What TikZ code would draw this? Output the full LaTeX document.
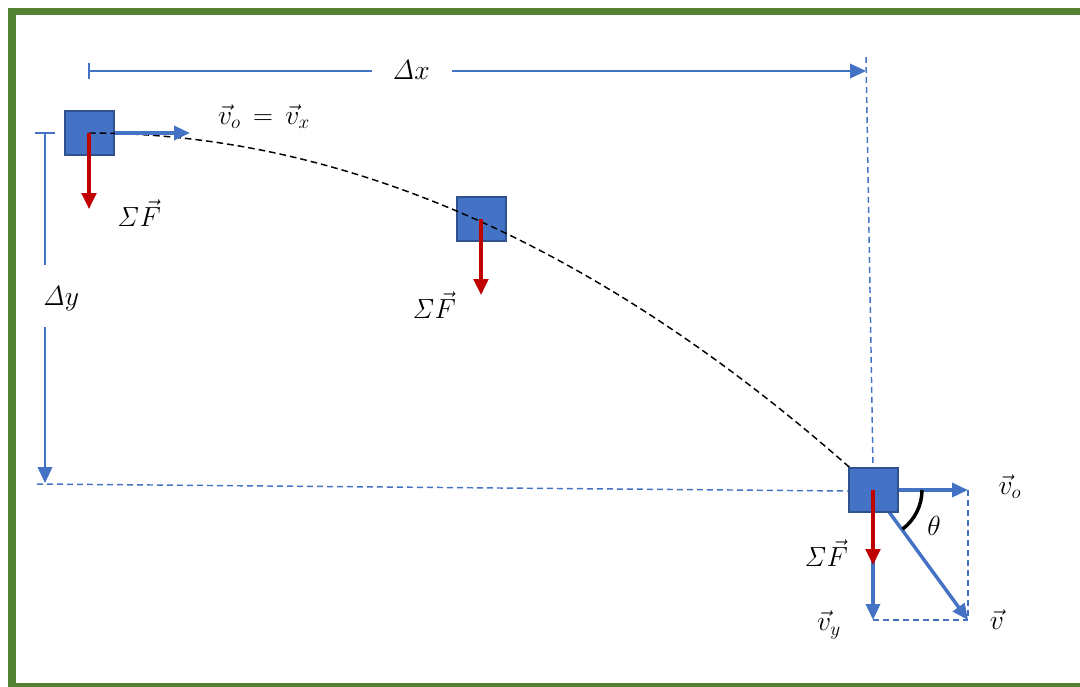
\documentclass[tikz,border=0pt]{standalone}
\usepackage{amsmath,amssymb}
\usepackage{xcolor}
\usepackage{tikz}
\usetikzlibrary{positioning, shapes, arrows.meta}
\definecolor{blockblue}{HTML}{4472C4}
\definecolor{blockedge}{HTML}{2F528F}
\definecolor{forcered}{HTML}{C00000}
\definecolor{framegreen}{HTML}{548235}

\begin{document}
\begin{tikzpicture}[x=0.75pt, y=-0.75pt, font=\huge,
  block/.style={draw=blockedge, line width=1.5pt, fill=blockblue, minimum width=36.75pt, minimum height=33pt, inner sep=0pt},
  vel/.style={draw=blockblue, line width=2.6pt, -{Triangle[length=12pt, width=10.5pt]}},
  force/.style={draw=forcered, line width=2.4pt, -{Triangle[length=12pt, width=11pt]}},
  dim/.style={draw=blockblue, line width=1.1pt},
  guide/.style={draw=blockblue, line width=1.1pt, dash pattern=on 4.5pt off 3pt},
  path/.style={draw=black, line width=1.1pt, dash pattern=on 5pt off 3pt},
  label/.style={inner sep=1pt}]
  \useasboundingbox (0,0) rectangle (1080,686);
  \draw [framegreen, line width=5.5pt] (12,11.5) rectangle (1095,687);

  \coordinate (c1) at (89,133);
  \coordinate (c2) at (481,219);
  \coordinate (c3) at (873,490);

  \node (b1) [block] at (c1) {};
  \node (b2) [block] at (c2) {};

  \draw [path] (c1) .. controls (348,133) and (607,249) .. (866,482);

  \coordinate (f1tip) at (89,209);
  \coordinate (f2tip) at (481,295);
  \coordinate (votip1) at (190,133);
  \draw [vel] (b1.east) -- (votip1);
  \draw [force] (c1) -- (f1tip);
  \draw [force] (c2) -- (f2tip);

  \node (vx) [label] at (264,117) {$\vec{v}_o\,=\,\vec{v}_x$};
  \node (f1) [label] at (139,213) {$\mathit{\Sigma}\vec{F}$};
  \node (f2) [label] at (434,305) {$\mathit{\Sigma}\vec{F}$};

  \coordinate (dxs) at (89,71);
  \coordinate (dxa) at (372,71);
  \coordinate (dxb) at (452,71);
  \coordinate (dxe) at (866,71);
  \node (dx) [label] at (411,70) {$\mathit{\Delta}x$};
  \draw [dim] (89,63) -- (89,79);
  \draw [dim] (dxs) -- (dxa);
  \draw [dim, -{Triangle[length=12pt, width=11pt]}] (dxb) -- (dxe);

  \coordinate (dys) at (45,133);
  \coordinate (dya) at (45,265);
  \coordinate (dyb) at (45,327);
  \coordinate (dye) at (45,483);
  \node (dy) [label] at (61,299) {$\mathit{\Delta}y$};
  \draw [dim] (35,133) -- (55,133);
  \draw [dim] (dys) -- (dya);
  \draw [dim, -{Triangle[length=12pt, width=11pt]}] (dyb) -- (dye);

  \coordinate (gxa) at (866,57);
  \coordinate (gxb) at (873,467);
  \coordinate (gya) at (37,484);
  \coordinate (gyb) at (848,491);
  \draw [guide] (gxa) -- (gxb);
  \draw [guide] (gya) -- (gyb);

  \coordinate (vytip) at (873,620);
  \coordinate (vtip) at (968,620);
  \coordinate (votip) at (968,490);
  \coordinate (f3tip) at (873,565);
  \draw [guide] (votip) -- (vtip);
  \draw [guide] (vytip) -- (vtip);
  \draw [vel] (c3) -- (vytip);
  \draw [vel] (c3) -- (vtip);
  \node (b3) [block] at (c3) {};
  \draw [vel] (b3.east) -- (votip);
  \draw [force] (c3) -- (f3tip);
  \draw [black, line width=2.6pt] ([shift={(0:49)}]c3) arc (0:53:49);

  \node (th) [label] at (934,526) {$\theta$};
  \node (vo) [label] at (1010,487) {$\vec{v}_o$};
  \node (v) [label] at (997,620) {$\vec{v}$};
  \node (vy) [label] at (829,625) {$\vec{v}_y$};
  \node (f3) [label] at (826,553) {$\mathit{\Sigma}\vec{F}$};
\end{tikzpicture}
\end{document}
